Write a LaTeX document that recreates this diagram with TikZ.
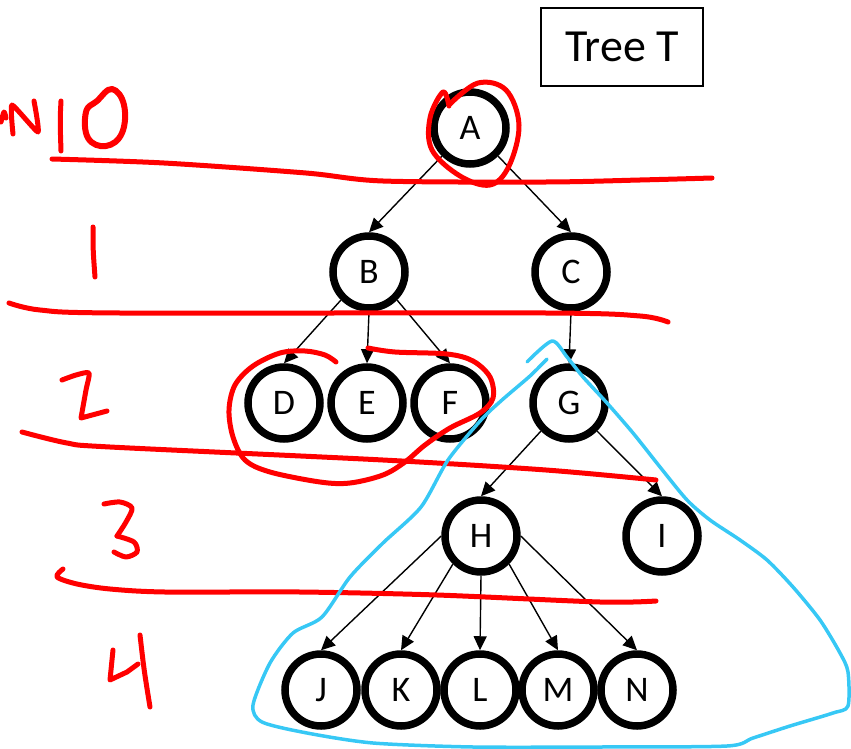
\documentclass[tikz,border=0pt]{standalone}
\usepackage{fontspec}
\setmainfont{Carlito}
\usetikzlibrary{arrows.meta}
\definecolor{inkred}{RGB}{255,0,0}
\definecolor{inkblue}{RGB}{55,200,245}
\tikzset{
  tnode/.style={circle, draw=black, line width=7.5pt, minimum size=72pt, inner sep=0pt, fill=white, font=\fontsize{36}{36}\selectfont},
  tedge/.style={-{Triangle[length=14pt,width=13pt]}, line width=1.4pt},
  redink/.style={draw=inkred, line width=5pt, line cap=round, line join=round},
  blueink/.style={draw=inkblue, line width=3.5pt, line cap=round, line join=round},
  titlebox/.style={draw=black, line width=1.6pt, minimum width=162pt, minimum height=78pt, inner sep=0pt, font=\fontsize{46}{46}\selectfont}
}
\begin{document}
\begin{tikzpicture}[x=1pt,y=-1pt]
\useasboundingbox (0,0) rectangle (851,749);
% title
\node[titlebox] (title) at (622,47) {Tree T};
% nodes
\node[tnode] (A) at (470,128) {A};
\node[tnode] (B) at (369,272) {B};
\node[tnode] (C) at (571,272) {C};
\node[tnode] (D) at (284,403) {D};
\node[tnode] (E) at (367,403) {E};
\node[tnode] (F) at (450,403) {F};
\node[tnode] (G) at (569,403) {G};
\node[tnode] (H) at (481,536) {H};
\node[tnode] (I) at (662,536) {I};
\node[tnode] (J) at (321,690) {J};
\node[tnode] (K) at (401,690) {K};
\node[tnode] (L) at (480,690) {L};
\node[tnode] (M) at (558,690) {M};
\node[tnode] (N) at (637,690) {N};
% edges
\draw[tedge] (A.south west) -- (B.north);
\draw[tedge] (A.south east) -- (C.north);
\draw[tedge] (B.south west) -- (D.north);
\draw[tedge] (B.south) -- (E.north);
\draw[tedge] (B.south east) -- (F.north);
\draw[tedge] (C.south) -- (G.north);
\draw[tedge] (G.south west) -- (H.north);
\draw[tedge] (G.south east) -- (I.north);
\draw[tedge] (H.west) -- (J.north);
\draw[tedge] (H.south west) -- (K.north);
\draw[tedge] (H.south) -- (L.north);
\draw[tedge] (H.south east) -- (M.north);
\draw[tedge] (H.east) -- (N.north);
% red level lines
\draw[redink] plot[smooth, tension=0.5] coordinates {(52,159) (164,163) (306,173) (383,181) (546,182) (640,180) (712,178)};
\draw[redink] plot[smooth, tension=0.5] coordinates {(9,303) (40,310) (120,313) (546,313) (640,316) (668,322)};
\draw[redink] plot[smooth, tension=0.5] coordinates {(22,432) (67,443) (110,447) (383,460) (546,470) (656,480)};
\draw[redink] plot[smooth, tension=0.5] coordinates {(63,569) (57,577) (77,584) (110,589) (165,592) (300,592) (437,595) (600,602) (656,601)};
% red numbers
\draw[redink] plot[smooth, tension=0.5] coordinates {(1,122) (4,112) (6,118)};
\draw[redink] plot[smooth, tension=0.3] coordinates {(13,134) (12,105) (38,132) (34,101)};
\draw[redink] (61,101) .. controls (60,120) .. (61,151);
\draw[redink, line width=6pt] plot[smooth cycle, tension=0.7] coordinates {(97,101) (112,89) (124,105) (122,133) (106,146) (88,138) (86,112)};
\draw[redink] (93,227) .. controls (93,250) .. (95,277);
\draw[redink] plot[smooth, tension=0.4] coordinates {(62,380) (76,375) (89,373) (86,390) (81,418)} -- (107,411);
\draw[redink] plot[smooth, tension=0.5] coordinates {(104,504) (120,502) (132,508) (126,522) (117,536)};
\draw[redink] plot[smooth, tension=0.5] coordinates {(117,536) (134,542) (137,552) (126,557) (114,552)};
\draw[redink] (113,650) .. controls (111,665) .. (110,680) -- (127,672) -- (138,664);
\draw[redink] (140,635) .. controls (144,670) .. (150,707);
% red circles
\draw[redink] plot[smooth, tension=0.6] coordinates {(449,106) (443,92) (430,118) (432,150) (460,176) (490,185) (509,166) (519,125) (506,90) (478,83) (450,104)};
\draw[redink] plot[smooth, tension=0.55] coordinates {(368,348) (395,352) (447,354) (473,361) (490,377) (493,398) (480,413) (450,428) (425,445) (405,462) (383,475) (350,483) (320,482) (270,472) (245,460) (233,437) (229,410) (235,385) (253,366) (280,353) (305,351) (325,355) (336,362)};
% blue triangle
\draw[blueink] plot[smooth, tension=0.45] coordinates {(527,362) (552,341) (567,357) (583,377) (607,403) (633,433) (660,467) (687,500) (710,520) (740,540) (767,560) (793,587) (820,620) (840,653) (848,672) (848,706) (833,713) (790,726) (753,738) (727,746) (600,747) (473,747) (373,743) (307,733) (262,722) (253,705) (270,663) (293,633) (322,617) (350,577) (383,543) (421,507) (448,460) (481,420) (502,400) (530,376) (547,359)};
\end{tikzpicture}
\end{document}
